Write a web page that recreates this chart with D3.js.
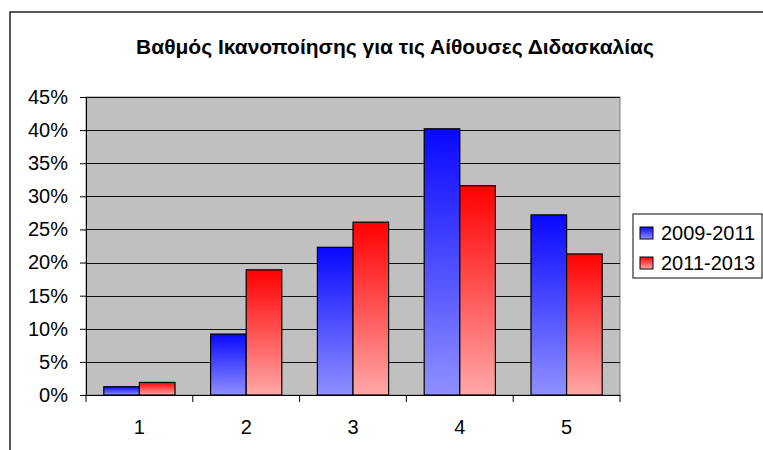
<!DOCTYPE html>
<html>
<head>
<meta charset="utf-8">
<script src="https://cdn.jsdelivr.net/npm/d3@7"></script>
<style>
body { margin: 0; background: #fff; }
text { font-family: Arial, "Liberation Sans", sans-serif; }
</style>
</head>
<body>
<script>
var w = 763;
var h = 450;

var title = "Βαθμός Ικανοποίησης για τις Αίθουσες Διδασκαλίας";
var categories = ["1", "2", "3", "4", "5"];
var seriesNames = ["2009-2011", "2011-2013"];
var values2009 = [0.0125, 0.092, 0.223, 0.402, 0.272];
var values2011 = [0.019, 0.189, 0.261, 0.316, 0.213];
var yTicks = [0, 0.05, 0.10, 0.15, 0.20, 0.25, 0.30, 0.35, 0.40, 0.45];

var dataset = [];
for (var i = 0; i < categories.length; i++) {
    dataset.push({cat: categories[i], vals: [values2009[i], values2011[i]]});
}

var plotLeft = 86, plotRight = 620, plotTop = 97, plotBottom = 395;
var fontSize = 20;

var svg = d3.select("body")
    .append("svg")
    .attr("width", w)
    .attr("height", h);

var defs = svg.append("defs");
var gradColors = [["#0808ff", "#9090ff"], ["#ff0000", "#ffa8a8"]];
gradColors.forEach(function (c, i) {
    var g = defs.append("linearGradient")
        .attr("id", "grad" + i)
        .attr("x1", 0).attr("y1", 0)
        .attr("x2", 0).attr("y2", 1);
    g.append("stop").attr("offset", "0%").attr("stop-color", c[0]);
    g.append("stop").attr("offset", "100%").attr("stop-color", c[1]);
});

// outer chart border
svg.append("rect")
    .attr("x", 10)
    .attr("y", 12)
    .attr("width", w + 10)
    .attr("height", h + 10)
    .attr("fill", "none")
    .attr("stroke", "#222")
    .attr("stroke-width", 1.5);

svg.append("text")
    .text(title)
    .attr("x", 395)
    .attr("y", 54)
    .attr("text-anchor", "middle")
    .attr("font-size", 21)
    .attr("font-weight", "bold");

var x = d3.scaleBand()
    .domain(categories)
    .range([plotLeft, plotRight])
    .paddingInner(1 / 3)
    .paddingOuter(1 / 6);

var xSub = d3.scaleBand()
    .domain([0, 1])
    .range([0, x.bandwidth()]);

var y = d3.scaleLinear()
    .domain([0, 0.45])
    .range([plotBottom, plotTop]);

// plot background
svg.append("rect")
    .attr("x", plotLeft)
    .attr("y", plotTop)
    .attr("width", plotRight - plotLeft)
    .attr("height", plotBottom - plotTop)
    .attr("fill", "#c0c0c0")
    .attr("stroke", "#808080");

// gridlines
svg.selectAll("line.grid")
    .data(yTicks.slice(1))
    .enter()
    .append("line")
    .attr("class", "grid")
    .attr("x1", plotLeft)
    .attr("x2", plotRight)
    .attr("y1", function (d) { return Math.round(y(d)) + 0.5; })
    .attr("y2", function (d) { return Math.round(y(d)) + 0.5; })
    .attr("stroke", "#111")
    .attr("stroke-width", 1);

// bars
var groups = svg.selectAll("g.group")
    .data(dataset)
    .enter()
    .append("g")
    .attr("class", "group")
    .attr("transform", function (d) { return "translate(" + x(d.cat) + ",0)"; });

groups.selectAll("rect")
    .data(function (d) { return d.vals; })
    .enter()
    .append("rect")
    .attr("x", function (d, i) { return xSub(i); })
    .attr("y", function (d) { return y(d); })
    .attr("width", xSub.bandwidth())
    .attr("height", function (d) { return plotBottom - y(d); })
    .attr("fill", function (d, i) { return "url(#grad" + i + ")"; })
    .attr("stroke", "#000")
    .attr("stroke-width", 1.2);

// y axis
var yAxis = d3.axisLeft(y)
    .tickValues(yTicks)
    .tickFormat(d3.format(".0%"))
    .tickSize(6)
    .tickPadding(12);

var gy = svg.append("g")
    .attr("transform", "translate(" + plotLeft + ",0)")
    .call(yAxis);
gy.select(".domain").attr("stroke", "#000");
gy.selectAll("text").attr("font-size", fontSize).attr("fill", "#000").attr("font-family", "Arial, 'Liberation Sans', sans-serif");

// x axis (labels at centers, ticks at boundaries)
var xAxis = d3.axisBottom(x)
    .tickSize(0)
    .tickPadding(25);

var gx = svg.append("g")
    .attr("transform", "translate(0," + plotBottom + ")")
    .call(xAxis);
gx.select(".domain").attr("stroke", "#000");
gx.selectAll("text").attr("font-size", fontSize).attr("fill", "#000").attr("font-family", "Arial, 'Liberation Sans', sans-serif");

var step = x.step();
var boundaries = categories.map(function (c) { return x(c) - x.paddingOuter() * step; });
boundaries.push(plotRight);
gx.selectAll("line.bt")
    .data(boundaries)
    .enter()
    .append("line")
    .attr("class", "bt")
    .attr("x1", function (d) { return d; })
    .attr("x2", function (d) { return d; })
    .attr("y1", 0)
    .attr("y2", 7)
    .attr("stroke", "#000");

// legend
var legend = svg.append("g")
    .attr("transform", "translate(633,214)");

legend.append("rect")
    .attr("width", 129)
    .attr("height", 64)
    .attr("fill", "#fff")
    .attr("stroke", "#333")
    .attr("stroke-width", 1.2);

var items = legend.selectAll("g.item")
    .data(seriesNames)
    .enter()
    .append("g")
    .attr("class", "item")
    .attr("transform", function (d, i) { return "translate(7," + (13 + i * 30) + ")"; });

items.append("rect")
    .attr("width", 13)
    .attr("height", 12)
    .attr("fill", function (d, i) { return "url(#grad" + i + ")"; })
    .attr("stroke", "#000");

items.append("text")
    .text(function (d) { return d; })
    .attr("x", 21)
    .attr("y", 13)
    .attr("font-size", fontSize);
</script>
</body>
</html>
